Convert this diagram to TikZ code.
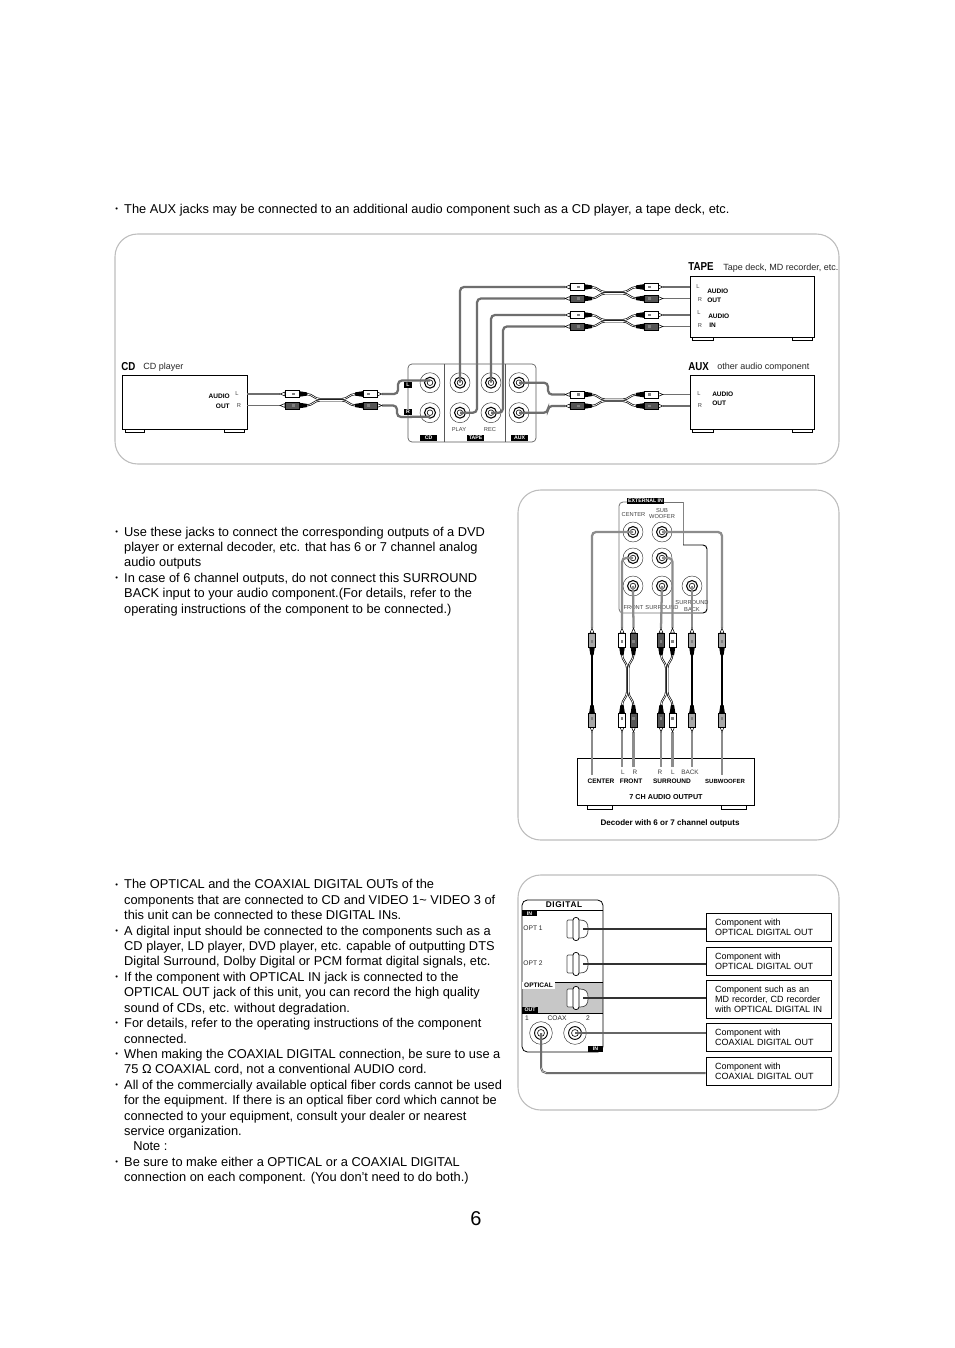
\documentclass[tikz,border=0pt]{standalone}
\usepackage{fontspec}
\setmainfont{Liberation Sans}
\newcommand{\Bu}{\makebox[6.7pt][l]{\raisebox{1.2pt}{\scalebox{.6}{•}}}}
\newcommand{\Ct}{\hspace*{6.7pt}}
\definecolor{wiregrey}{HTML}{6E6E6E}
\definecolor{framegrey}{HTML}{BDBDBD}
\definecolor{plugdark}{HTML}{555555}
\definecolor{pluggrey}{HTML}{A8A8A8}
\tikzset{
 frame/.style={draw=framegrey,line width=.8pt,rounded corners=17pt},
 body/.style={font=\fontsize{9.62}{11.56}\selectfont,align=left,inner sep=0pt,anchor=north west},
 tiny/.style={font=\fontsize{4.3}{5}\selectfont,inner sep=0pt,text=black!75},
 lab/.style={font=\fontsize{6.75}{7.5}\selectfont,inner sep=0pt,text=black!85},
 blab/.style={font=\fontsize{4.9}{6}\bfseries\selectfont,inner sep=0pt},
 head/.style={font=\fontsize{8.6}{10}\bfseries\selectfont,inner sep=0pt,anchor=west},
 tag/.style={fill=black,text=white,font=\fontsize{3.9}{4.5}\bfseries\selectfont,inner sep=0pt},
 wire/.style={draw=wiregrey,line width=1.7pt,rounded corners=3pt},
 thinwire/.style={draw=wiregrey,line width=1.3pt},
 unit/.style={draw=black,line width=.7pt,inner sep=0pt},
 comp/.style={draw=black,line width=.7pt,text width=80pt,inner xsep=6.9pt,inner ysep=0pt,align=left,font=\fontsize{6.75}{7.5}\selectfont},
 jack/.style={circle,draw=black!80,line width=.35pt,minimum size=15pt,inner sep=0pt},
 cord/.style={draw=black,line width=1.5pt},
 cordin/.style={draw=white,line width=.5pt},
}
% plug: local x along its axis, third argument = direction away from the tip
\newcommand{\plug}[4]{\begin{scope}[shift={(#1,#2)},xscale=#3]
 \draw[black,line width=.4pt,fill=white] (0,0)--(5,-2)--(5,2)--cycle;
 \fill[black] (18,-3)--(27,-1.6)--(27,1.6)--(18,3)--cycle;
 \draw[black,line width=.4pt,fill=#4] (5,-3.6) rectangle (19,3.6);
 \fill[black!50] (12,-1.4) rectangle (15,1.4);
 \end{scope}}
% double Y cord from 0 to #1 with rows at 0 and #2
\newcommand{\ycord}[6]{%
 \foreach \yy/\oo in {0/-.7,#2/.7}{
  \draw[cord] (26,\yy) .. controls (33,\yy) and (34,#2/2+\oo) .. (40,#2/2+\oo) -- (#1-40,#2/2+\oo) .. controls (#1-34,#2/2+\oo) and (#1-33,\yy) .. (#1-26,\yy);
  \draw[cordin] (26,\yy) .. controls (33,\yy) and (34,#2/2+\oo) .. (40,#2/2+\oo) -- (#1-40,#2/2+\oo) .. controls (#1-34,#2/2+\oo) and (#1-33,\yy) .. (#1-26,\yy);}
 \plug{0}{0}{1}{#3}\plug{0}{#2}{1}{#4}
 \plug{#1}{0}{-1}{#5}\plug{#1}{#2}{-1}{#6}}
\newcommand{\vstraight}[4]{\begin{scope}[cm={0,-1,-1,0,(#1,#2)}]
 \draw[black,line width=#4] (26,0)--(#3-26,0);
 \plug{0}{0}{1}{pluggrey}\plug{#3}{0}{-1}{pluggrey}\end{scope}}
\newcommand{\mkjack}[3]{\node[jack] (#1) at (#2,#3) {};
 \draw[black,line width=.8pt] (#1.center) circle (4.1pt);
 \draw[black,line width=.45pt] (#1.center) circle (2.1pt);}
\newcommand{\optical}[3]{\begin{scope}[shift={(#2,#3)}]
 \coordinate (#1) at (6,0);
 \draw[black!70,line width=.55pt,fill=white,rounded corners=.8pt] (-10,-9)--(2,-9)..controls (9,-9) and (11,-6) .. (11,0) .. controls (11,6) and (9,9) .. (2,9)--(-10,9)--cycle;
 \draw[black,line width=.55pt,fill=white,rounded corners=2pt] (-4,-11.5) rectangle (2,11.5);
 \end{scope}}
\begin{document}
\begin{tikzpicture}[x=.75pt,y=-.75pt]
\useasboundingbox[fill=white] (0,0) rectangle (954,1348);
% ---------- text ----------
\node[body] (t1) at (115,203.5) {\Bu The AUX jacks may be connected to an additional audio component such as a CD player, a tape deck, etc.};
\node[body] (t2) at (115,526.5) {\Bu Use these jacks to connect the corresponding outputs of a DVD\\\Ct player or external decoder, etc. that has 6 or 7 channel analog\\\Ct audio outputs\\\Bu In case of 6 channel outputs, do not connect this SURROUND\\\Ct BACK input to your audio component.(For details, refer to the\\\Ct operating instructions of the component to be connected.)};
\node[body] (t3) at (115,879.3) {\Bu The OPTICAL and the COAXIAL DIGITAL OUTs of the\\\Ct components that are connected to CD and VIDEO 1\raisebox{0pt}{\textasciitilde} VIDEO 3 of\\\Ct this unit can be connected to these DIGITAL INs.\\\Bu A digital input should be connected to the components such as a\\\Ct CD player, LD player, DVD player, etc. capable of outputting DTS\\\Ct Digital Surround, Dolby Digital or PCM format digital signals, etc.\\\Bu If the component with OPTICAL IN jack is connected to the\\\Ct OPTICAL OUT jack of this unit, you can record the high quality\\\Ct sound of CDs, etc. without degradation.\\\Bu For details, refer to the operating instructions of the component\\\Ct connected.\\\Bu When making the COAXIAL DIGITAL connection, be sure to use a\\\Ct 75 Ω COAXIAL cord, not a conventional AUDIO cord.\\\Bu All of the commercially available optical fiber cords cannot be used\\\Ct for the equipment. If there is an optical fiber cord which cannot be\\\Ct connected to your equipment, consult your dealer or nearest\\\Ct service organization.\\\hspace*{13.5pt}Note :\\\Bu Be sure to make either a OPTICAL or a COAXIAL DIGITAL\\\Ct connection on each component. (You don’t need to do both.)};
\node[font=\fontsize{15}{18}\selectfont,inner sep=0pt] (pageno) at (476,1218.5) {6};
% ---------- frames ----------
\draw[frame] (115,234) rectangle (839,464);
\draw[frame] (518,490) rectangle (839,840);
\draw[frame] (518,875) rectangle (839,1110);
% ---------- top panel ----------
\node[head] (hcd) at (121,366.5) {\scalebox{.85}[1]{CD}};
\node[lab,anchor=west] (hcdt) at (143,367) {CD player};
\node[head] (htape) at (688,266.5) {\scalebox{.85}[1]{TAPE}};
\node[lab,anchor=west] (htapet) at (723,268) {Tape deck, MD recorder, etc.};
\node[head] (haux) at (688,366.5) {\scalebox{.85}[1]{AUX}};
\node[lab,anchor=west] (hauxt) at (717,367) {other audio component};
\node[unit,minimum width=93.75pt,minimum height=40.5pt] (cdbox) at (184.5,402) {};
\node[unit,minimum width=93pt,minimum height=45.75pt] (tapebox) at (752,306.5) {};
\node[unit,minimum width=93pt,minimum height=40.5pt] (auxbox) at (752,402) {};
\draw[line width=.7pt] (125,429) rectangle (144,432.5) (224,429) rectangle (244,432.5);
\draw[line width=.7pt] (692,337) rectangle (713,340.5) (792,337) rectangle (812,340.5);
\draw[line width=.7pt] (692,429) rectangle (713,432.5) (792,429) rectangle (812,432.5);
\node[blab,anchor=east] (cda) at (230,396) {AUDIO};
\node[blab,anchor=east] (cdo) at (230,406) {OUT};
\node[tiny] (cdl) at (237,393.5) {L};
\node[tiny] (cdr) at (239,406) {R};
\node[blab,anchor=west] (ta1) at (707,291) {AUDIO};
\node[blab,anchor=west] (to1) at (707,300) {OUT};
\node[blab,anchor=west] (ta2) at (708,316) {AUDIO};
\node[blab,anchor=west] (ti2) at (709,325) {IN};
\node[tiny] (tl1) at (698,287) {L};
\node[tiny] (tr1) at (700,300) {R};
\node[tiny] (tl2) at (699,313) {L};
\node[tiny] (tr2) at (700,326) {R};
\node[blab,anchor=west] (aa) at (712,394) {AUDIO};
\node[blab,anchor=west] (ao) at (712,403.5) {OUT};
\node[tiny] (al) at (699,394) {L};
\node[tiny] (ar) at (700,406) {R};
% rear panel
\draw[black!65,line width=.5pt,rounded corners=3pt] (408,364) rectangle (536,442);
\draw[black!65,line width=.5pt] (444,364)--(444,442) (505,364)--(505,442);
\node[tag,minimum width=6pt,minimum height=4.5pt] (tagl) at (408,384.5) {L};
\node[tag,minimum width=6pt,minimum height=4.5pt] (tagr) at (408,412) {R};
\node[tag,minimum width=12.8pt,minimum height=4.6pt] (tagcd) at (428.5,438) {CD};
\node[tag,minimum width=12.8pt,minimum height=4.6pt] (tagtape) at (475.5,438) {TAPE};
\node[tag,minimum width=12.8pt,minimum height=4.6pt] (tagaux) at (519.5,438) {AUX};
\node[tiny] (play) at (459,429.5) {PLAY};
\node[tiny] (rec) at (490,429.5) {REC};
\mkjack{jcdl}{430}{382.7}\mkjack{jcdr}{430}{412.7}
\mkjack{jpl}{460}{382.7}\mkjack{jpr}{460}{412.7}
\mkjack{jrl}{491}{382.7}\mkjack{jrr}{491}{412.7}
\mkjack{jal}{519}{382.7}\mkjack{jar}{519}{412.7}
% named cable ends
\coordinate (c1a) at (280,394);\coordinate (c1b) at (280,405.5);
\coordinate (c1c) at (382,394);\coordinate (c1d) at (382,405.5);
\coordinate (c2a) at (565,287);\coordinate (c2b) at (565,298.5);
\coordinate (c2c) at (663,287);\coordinate (c2d) at (663,298.5);
\coordinate (c3a) at (565,315);\coordinate (c3b) at (565,326.5);
\coordinate (c3c) at (663,315);\coordinate (c3d) at (663,326.5);
\coordinate (c4a) at (565,394.5);\coordinate (c4b) at (565,406);
\coordinate (c4c) at (663,394.5);\coordinate (c4d) at (663,406);
% wires
\draw[thinwire] (cdbox.east|-c1a)--(c1a);
\draw[thinwire] (cdbox.east|-c1b)--(c1b);
\draw[wire] (c1c)--(398,394)--(398,380.5)--([yshift=1.6pt]jcdl.center);
\draw[wire] (c1d)--(397,405.5)--(397,417)--([yshift=-3pt]jcdr.center);
\draw[wire] (jpl.center)--(460,287)--(c2a);
\draw[wire] (jpr.center)--(477,412.7)--(477,298.5)--(c2b);
\draw[wire] (jrl.center)--(491,315)--(c3a);
\draw[wire] (jrr.center)--(503,412.7)--(503,326.5)--(c3b);
\draw[wire] (jal.center)--(548,382.7)--(548,394.5)--(c4a);
\draw[wire] (jar.center)--(548,412.7)--(548,406)--(c4b);
\draw[thinwire] (c2c)--(tapebox.west|-c2c);
\draw[thinwire] (c2d)--(tapebox.west|-c2d);
\draw[thinwire] (c3c)--(tapebox.west|-c3c);
\draw[thinwire] (c3d)--(tapebox.west|-c3d);
\draw[thinwire] (c4c)--(auxbox.west|-c4c);
\draw[thinwire] (c4d)--(auxbox.west|-c4d);
\begin{scope}[shift={(c1a)}]\ycord{102}{11.5}{white}{plugdark}{white}{plugdark}\end{scope}
\begin{scope}[shift={(c2a)}]\ycord{98}{11.5}{white}{plugdark}{white}{plugdark}\end{scope}
\begin{scope}[shift={(c3a)}]\ycord{98}{11.5}{white}{plugdark}{white}{plugdark}\end{scope}
\begin{scope}[shift={(c4a)}]\ycord{98}{11.5}{white}{plugdark}{white}{plugdark}\end{scope}
% ---------- middle panel ----------
\draw[framegrey!70!black,line width=.7pt,rounded corners=3pt] (683,502)--(683,545);
\draw[black,line width=.7pt,rounded corners=3pt] (683,545)--(707,545)--(707,613)--(660,613);
\draw[black!55,line width=.6pt,rounded corners=3pt] (660,613)--(619,613)--(619,502)--(627,502);
\draw[black!55,line width=.6pt] (664,502)--(683,502);
\node[tag,minimum width=28pt,minimum height=4.6pt] (tagext) at (645.5,501) {EXTERNAL IN};
\node[tiny] (lcenter) at (633.5,515) {CENTER};
\node[tiny,align=center] (lsub) at (662,513.5) {SUB\\WOOFER};
\node[tiny] (lfront) at (633.5,607.5) {FRONT};
\node[tiny] (lsurr) at (662,607.5) {SURROUND};
\node[tiny,align=center] (lback) at (692,606) {SURROUND\\BACK};
\mkjack{ec}{633}{532}\mkjack{es}{662}{532}
\mkjack{efl}{633}{558}\mkjack{esl}{662}{558}
\mkjack{efr}{633}{586}\mkjack{esr}{662}{586}\mkjack{ebk}{692}{586}
\node[unit,minimum width=132.75pt,minimum height=35.25pt] (dec) at (665.5,781.5) {};
\draw[line width=.7pt] (587,805) rectangle (612,809) (721,805) rectangle (746,809);
\node[blab] (lc) at (601,781) {CENTER};
\node[blab] (lfr) at (631,781) {FRONT};
\node[blab] (lsu) at (672,781) {SURROUND};
\node[blab,font=\fontsize{4.5}{6}\bfseries\selectfont] (lsw) at (725,781) {SUBWOOFER};
\node[tiny,font=\fontsize{4.8}{5}\selectfont] (d1) at (623,772.5) {L};
\node[tiny,font=\fontsize{4.8}{5}\selectfont] (d2) at (635,772.5) {R};
\node[tiny,font=\fontsize{4.8}{5}\selectfont] (d3) at (660,772.5) {R};
\node[tiny,font=\fontsize{4.8}{5}\selectfont] (d4) at (673,772.5) {L};
\node[tiny,font=\fontsize{4.8}{5}\selectfont] (d5) at (690,772.5) {BACK};
\node[blab,font=\fontsize{5.4}{6.8}\bfseries\selectfont] (l7) at (666,797) {7 CH AUDIO OUTPUT};
\node[blab,font=\fontsize{6.05}{7}\bfseries\selectfont] (ldec) at (670,823.5) {Decoder with 6 or 7 channel outputs};
% cable ends (top, bottom)
\coordinate (v1) at (592,628);\coordinate (v1b) at (592,775);
\coordinate (v2) at (622,628);\coordinate (v2b) at (622,767);
\coordinate (v3) at (633.5,628);\coordinate (v3b) at (633.5,767);
\coordinate (v4) at (661,628);\coordinate (v4b) at (661,767);
\coordinate (v5) at (672.5,628);\coordinate (v5b) at (672.5,767);
\coordinate (v6) at (692,628);\coordinate (v6b) at (692,767);
\coordinate (v7) at (722,628);\coordinate (v7b) at (722,775);
\draw[wire,draw=black!45] (ec.center)--(592,532)--(v1);
\draw[wire,draw=black!45] (efl.center)--(622,558)--(v2);
\draw[wire,draw=black!45] (efr.center)--(v3);
\draw[wire,draw=black!45] (esr.center)--(v4);
\draw[wire,draw=black!45] (esl.center)--(672.5,558)--(v5);
\draw[wire,draw=black!45] (ebk.center)--(v6);
\draw[wire,draw=black!45] (es.center)--(722,532)--(v7);
\foreach \n in {1,...,7}{\draw[draw=black!45,line width=1.6pt] (v\n)++(0,104)--(v\n b);}
\vstraight{592}{628}{104}{1.3pt}
\begin{scope}[cm={0,-1,-1,0,(v2)}]\ycord{104}{11.5}{white}{plugdark}{white}{plugdark}\end{scope}
\begin{scope}[cm={0,-1,-1,0,(v4)}]\ycord{104}{11.5}{plugdark}{white}{plugdark}{white}\end{scope}
\vstraight{692}{628}{104}{1.3pt}
\vstraight{722}{628}{104}{1.3pt}
% ---------- bottom panel ----------
\fill[black!22] (522,982) rectangle (603,1013);
\draw[black,line width=.6pt,rounded corners=4pt] (522,1052)--(522,900)--(603,900)--(603,1052)--cycle;
\draw[black,line width=.5pt] (522,910)--(603,910) (522,982)--(603,982) (522,1013)--(603,1013);
\node[font=\fontsize{6.2}{7}\bfseries\selectfont,inner sep=0pt] (ldig) at (564,905) {\addfontfeature{LetterSpace=8}DIGITAL};
\node[tag,minimum width=11pt,minimum height=4.2pt] (tin) at (529.5,913.5) {IN};
\node[lab,font=\fontsize{5}{6}\selectfont] (lo1) at (533,928) {OPT 1};
\node[lab,font=\fontsize{5}{6}\selectfont] (lo2) at (533,963) {OPT 2};
\node[fill=white,font=\fontsize{4.9}{6}\bfseries\selectfont,inner sep=0pt,minimum width=25pt,minimum height=5.2pt] (lopt) at (538.5,985.5) {OPTICAL};
\node[tag,minimum width=12pt,minimum height=4.2pt] (tout) at (530,1010) {OUT};
\node[lab,font=\fontsize{5}{6}\selectfont] (n1) at (527,1018) {1};
\node[lab,font=\fontsize{5}{6}\selectfont] (ncoax) at (557,1018) {COAX};
\node[lab,font=\fontsize{5}{6}\selectfont] (n2) at (588,1018) {2};
\node[tag,minimum width=11pt,minimum height=4.2pt] (tin2) at (595.5,1049) {IN};
\node[jack,minimum size=17pt] (co1) at (541,1033) {};
\draw[line width=.7pt] (co1.center) circle (4.8pt);\draw[line width=.45pt] (co1.center) circle (2.6pt);
\node[jack,minimum size=17pt] (co2) at (575,1033) {};
\draw[line width=.7pt] (co2.center) circle (4.8pt);\draw[line width=.45pt] (co2.center) circle (2.6pt);
\optical{o1}{577}{929}\optical{o2}{577}{964}\optical{o3}{577}{998}
\node[comp,minimum height=21pt] (b1) at (768.5,927) {Component with\\OPTICAL DIGITAL OUT};
\node[comp,minimum height=21pt] (b2) at (768.5,961) {Component with\\OPTICAL DIGITAL OUT};
\node[comp,minimum height=28.5pt] (b3) at (768.5,999) {Component such as an\\\mbox{MD recorder, CD recorder}\\\mbox{with OPTICAL DIGITAL IN}};
\node[comp,minimum height=21.5pt] (b4) at (768.5,1037.5) {Component with\\COAXIAL DIGITAL OUT};
\node[comp,minimum height=21pt] (b5) at (768.5,1071) {Component with\\COAXIAL DIGITAL OUT};
\draw[black!80,line width=2.2pt] (o1)--(b1.west|-o1);
\draw[black!80,line width=1.2pt] (o2)--(b2.west|-o2);
\draw[black!80,line width=2.2pt] (o3)--(b3.west|-o3);
\draw[black!60,line width=1.1pt] (co2.center)--(b4.west|-co2.center);
\coordinate (bend) at (541,1073);
\draw[black!65,line width=1.5pt,rounded corners=4pt] (co1.center)--(bend)--(b5.west|-bend);
\draw[white,line width=.3pt,rounded corners=4pt] (co1.center)--(bend)--(b5.west|-bend);
\end{tikzpicture}
\end{document}
